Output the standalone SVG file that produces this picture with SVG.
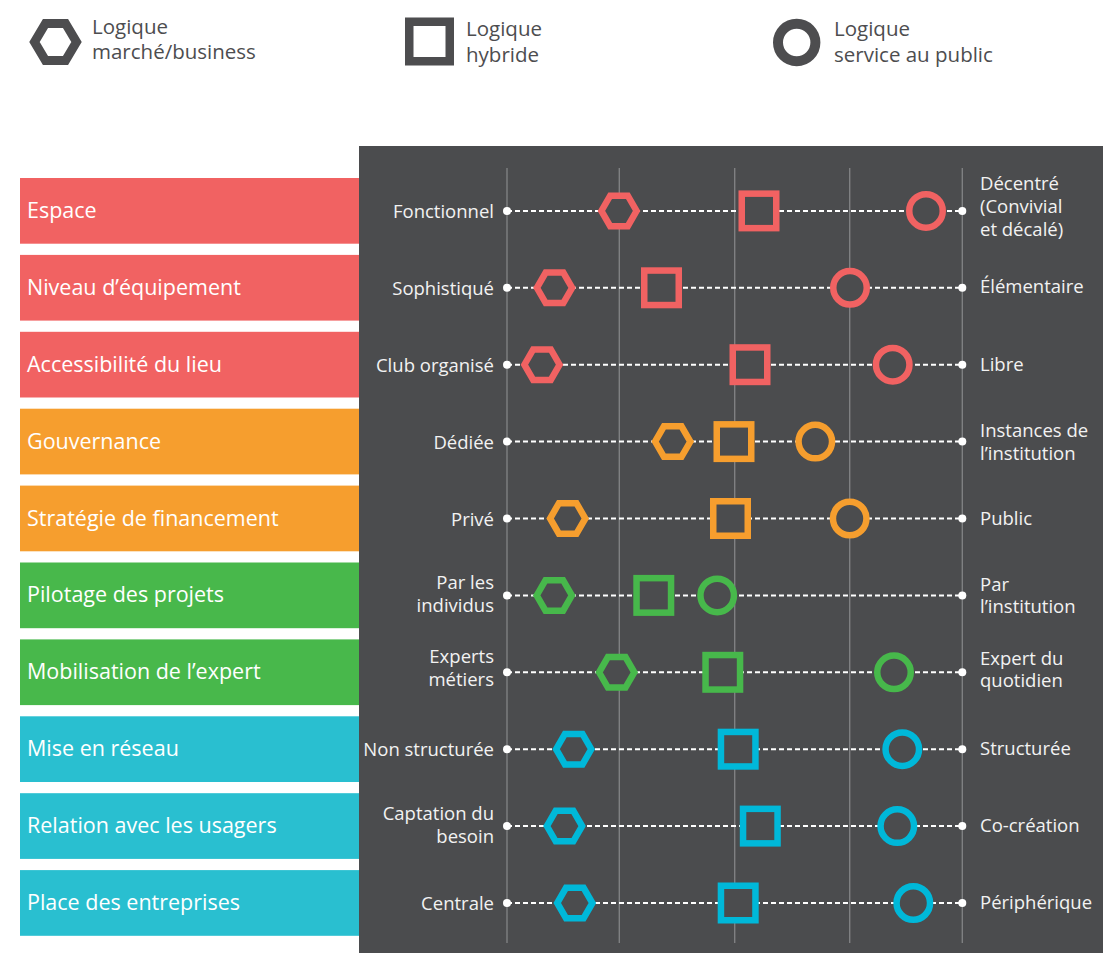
<svg xmlns="http://www.w3.org/2000/svg" xmlns:xlink="http://www.w3.org/1999/xlink" width="1103" height="953" viewBox="0 0 1103 953">
<style>
  text { font-family: "Open Sans", "Noto Sans", "Liberation Sans", sans-serif; }
  .leg { fill: #4d4d4f; font-size: 20.5px; }
  .box { font-size: 21.5px; fill: #ffffff; }
  .lab { font-size: 18.5px; fill: #f2f2f2; }
  .end { text-anchor: end; }
  .axis { stroke: #7f8082; stroke-width: 1.4; }
  .dash { stroke: #ffffff; stroke-width: 2; stroke-dasharray: 5 3; fill: none; }
  .dot { fill: #ffffff; }
  .sh { fill: #4b4c4e; stroke-width: 6.5; stroke-linejoin: miter; }
  .red { stroke: #f16262; }
  .org { stroke: #f69e2e; }
  .grn { stroke: #47b84b; }
  .cyn { stroke: #00b8d9; }
  .bred { fill: #f16262; }
  .borg { fill: #f69e2e; }
  .bgrn { fill: #48b84b; }
  .bcyn { fill: #29bfd0; }
</style>
<defs>
  <path id="hex" d="M17.6,0 L8.8,15.24 L-8.8,15.24 L-17.6,0 L-8.8,-15.24 L8.8,-15.24 Z"/>
  <rect id="sq" x="-17.25" y="-17.25" width="34.5" height="34.5"/>
  <circle id="ci" cx="0" cy="0" r="16.75"/>
</defs>
<rect x="0" y="0" width="1103" height="953" fill="#ffffff"/>

<g id="legend">
  <g id="legend-market">
    <path d="M76.5,42 L65.5,60.5 L45.5,60.5 L34.5,42 L45.5,23.5 L65.5,23.5 Z" fill="none" stroke="#4d4d4f" stroke-width="9" stroke-linejoin="miter"/>
    <text class="leg"><tspan x="92" y="34">Logique</tspan><tspan x="92" y="59">marché/business</tspan></text>
  </g>
  <g id="legend-hybrid">
    <rect x="409.25" y="21.75" width="40.5" height="39.5" fill="none" stroke="#4d4d4f" stroke-width="8.5"/>
    <text class="leg"><tspan x="466" y="36">Logique</tspan><tspan x="466" y="61.5">hybride</tspan></text>
  </g>
  <g id="legend-public">
    <circle cx="796.7" cy="42.5" r="18.7" fill="none" stroke="#4d4d4f" stroke-width="10"/>
    <text class="leg"><tspan x="834" y="36">Logique</tspan><tspan x="834" y="61.5">service au public</tspan></text>
  </g>
</g>

<rect id="panel" x="359" y="146" width="744" height="807" fill="#4b4c4e"/>

<g id="axes">
  <line class="axis" x1="507" y1="168" x2="507" y2="943"/>
  <line class="axis" x1="619.3" y1="168" x2="619.3" y2="943"/>
  <line class="axis" x1="734.7" y1="168" x2="734.7" y2="943"/>
  <line class="axis" x1="849.7" y1="168" x2="849.7" y2="943"/>
  <line class="axis" x1="962.3" y1="168" x2="962.3" y2="943"/>
</g>

<g id="connectors">
  <line class="dash" x1="507" y1="210.9" x2="962.3" y2="210.9"/>
  <line class="dash" x1="507" y1="287.8" x2="962.3" y2="287.8"/>
  <line class="dash" x1="507" y1="364.7" x2="962.3" y2="364.7"/>
  <line class="dash" x1="507" y1="441.6" x2="962.3" y2="441.6"/>
  <line class="dash" x1="507" y1="518.5" x2="962.3" y2="518.5"/>
  <line class="dash" x1="507" y1="595.4" x2="962.3" y2="595.4"/>
  <line class="dash" x1="507" y1="672.3" x2="962.3" y2="672.3"/>
  <line class="dash" x1="507" y1="749.2" x2="962.3" y2="749.2"/>
  <line class="dash" x1="507" y1="826.1" x2="962.3" y2="826.1"/>
  <line class="dash" x1="507" y1="903" x2="962.3" y2="903"/>
</g>

<g id="row-espace">
  <rect class="bred" x="20" y="178" width="339" height="65.7"/>
  <text class="box" x="27" y="218">Espace</text>
  <circle class="dot" cx="507" cy="210.9" r="4"/><circle class="dot" cx="962.3" cy="210.9" r="4"/>
  <text class="lab end" x="494" y="218">Fonctionnel</text>
  <text class="lab"><tspan x="980" y="189.5">Décentré</tspan><tspan x="980" y="212.5">(Convivial</tspan><tspan x="980" y="235.5">et décalé)</tspan></text>
  <use href="#hex" class="sh red" transform="translate(619,210.9)"/>
  <use href="#sq" class="sh red" transform="translate(759,210.9)"/>
  <use href="#ci" class="sh red" transform="translate(926,210.9)"/>
</g>

<g id="row-equipement">
  <rect class="bred" x="20" y="254.9" width="339" height="65.7"/>
  <text class="box" x="27" y="294.8">Niveau d’équipement</text>
  <circle class="dot" cx="507" cy="287.8" r="4"/><circle class="dot" cx="962.3" cy="287.8" r="4"/>
  <text class="lab end" x="494" y="294.8">Sophistiqué</text>
  <text class="lab" x="980" y="293">Élémentaire</text>
  <use href="#hex" class="sh red" transform="translate(554.5,287.8)"/>
  <use href="#sq" class="sh red" transform="translate(661.5,287.8)"/>
  <use href="#ci" class="sh red" transform="translate(850,287.8)"/>
</g>

<g id="row-accessibilite">
  <rect class="bred" x="20" y="331.8" width="339" height="65.7"/>
  <text class="box" x="27" y="371.7">Accessibilité du lieu</text>
  <circle class="dot" cx="507" cy="364.7" r="4"/><circle class="dot" cx="962.3" cy="364.7" r="4"/>
  <text class="lab end" x="494" y="371.7">Club organisé</text>
  <text class="lab" x="980" y="370.5">Libre</text>
  <use href="#hex" class="sh red" transform="translate(542,364.7)"/>
  <use href="#sq" class="sh red" transform="translate(750,364.7)"/>
  <use href="#ci" class="sh red" transform="translate(892.7,364.7)"/>
</g>

<g id="row-gouvernance">
  <rect class="borg" x="20" y="408.7" width="339" height="65.7"/>
  <text class="box" x="27" y="448.6">Gouvernance</text>
  <circle class="dot" cx="507" cy="441.6" r="4"/><circle class="dot" cx="962.3" cy="441.6" r="4"/>
  <text class="lab end" x="494" y="448.6">Dédiée</text>
  <text class="lab"><tspan x="980" y="437.3">Instances de</tspan><tspan x="980" y="460">l’institution</tspan></text>
  <use href="#hex" class="sh org" transform="translate(672.7,441.6)"/>
  <use href="#sq" class="sh org" transform="translate(734,441.6)"/>
  <use href="#ci" class="sh org" transform="translate(815.3,441.6)"/>
</g>

<g id="row-financement">
  <rect class="borg" x="20" y="485.6" width="339" height="65.7"/>
  <text class="box" x="27" y="525.5">Stratégie de financement</text>
  <circle class="dot" cx="507" cy="518.5" r="4"/><circle class="dot" cx="962.3" cy="518.5" r="4"/>
  <text class="lab end" x="494" y="525.5">Privé</text>
  <text class="lab" x="980" y="525">Public</text>
  <use href="#hex" class="sh org" transform="translate(567.7,518.5)"/>
  <use href="#sq" class="sh org" transform="translate(730.5,518.5)"/>
  <use href="#ci" class="sh org" transform="translate(849.7,518.5)"/>
</g>

<g id="row-pilotage">
  <rect class="bgrn" x="20" y="562.5" width="339" height="65.7"/>
  <text class="box" x="27" y="602.4">Pilotage des projets</text>
  <circle class="dot" cx="507" cy="595.4" r="4"/><circle class="dot" cx="962.3" cy="595.4" r="4"/>
  <text class="lab end"><tspan x="494" y="589">Par les</tspan><tspan x="494" y="611.7">individus</tspan></text>
  <text class="lab"><tspan x="980" y="591">Par</tspan><tspan x="980" y="613.3">l’institution</tspan></text>
  <use href="#hex" class="sh grn" transform="translate(554.3,595.4)"/>
  <use href="#sq" class="sh grn" transform="translate(653.8,595.4)"/>
  <use href="#ci" class="sh grn" transform="translate(717.2,595.4)"/>
</g>

<g id="row-mobilisation">
  <rect class="bgrn" x="20" y="639.4" width="339" height="65.7"/>
  <text class="box" x="27" y="679.3">Mobilisation de l’expert</text>
  <circle class="dot" cx="507" cy="672.3" r="4"/><circle class="dot" cx="962.3" cy="672.3" r="4"/>
  <text class="lab end"><tspan x="494" y="663.3">Experts</tspan><tspan x="494" y="685.7">métiers</tspan></text>
  <text class="lab"><tspan x="980" y="665">Expert du</tspan><tspan x="980" y="686.5">quotidien</tspan></text>
  <use href="#hex" class="sh grn" transform="translate(616.7,672.3)"/>
  <use href="#sq" class="sh grn" transform="translate(722.8,672.3)"/>
  <use href="#ci" class="sh grn" transform="translate(894,672.3)"/>
</g>

<g id="row-reseau">
  <rect class="bcyn" x="20" y="716.3" width="339" height="65.7"/>
  <text class="box" x="27" y="756.2">Mise en réseau</text>
  <circle class="dot" cx="507" cy="749.2" r="4"/><circle class="dot" cx="962.3" cy="749.2" r="4"/>
  <text class="lab end" x="494" y="756">Non structurée</text>
  <text class="lab" x="980" y="754.5">Structurée</text>
  <use href="#hex" class="sh cyn" transform="translate(573.7,749.2)"/>
  <use href="#sq" class="sh cyn" transform="translate(738.2,749.2)"/>
  <use href="#ci" class="sh cyn" transform="translate(902.3,749.2)"/>
</g>

<g id="row-usagers">
  <rect class="bcyn" x="20" y="793.2" width="339" height="65.7"/>
  <text class="box" x="27" y="833.1">Relation avec les usagers</text>
  <circle class="dot" cx="507" cy="826.1" r="4"/><circle class="dot" cx="962.3" cy="826.1" r="4"/>
  <text class="lab end"><tspan x="494" y="820">Captation du</tspan><tspan x="494" y="842.7">besoin</tspan></text>
  <text class="lab" x="980" y="832">Co-création</text>
  <use href="#hex" class="sh cyn" transform="translate(564.5,826.1)"/>
  <use href="#sq" class="sh cyn" transform="translate(760.3,826.1)"/>
  <use href="#ci" class="sh cyn" transform="translate(897.3,826.1)"/>
</g>

<g id="row-entreprises">
  <rect class="bcyn" x="20" y="870.1" width="339" height="65.7"/>
  <text class="box" x="27" y="910">Place des entreprises</text>
  <circle class="dot" cx="507" cy="903" r="4"/><circle class="dot" cx="962.3" cy="903" r="4"/>
  <text class="lab end" x="494" y="909.5">Centrale</text>
  <text class="lab" x="980" y="909">Périphérique</text>
  <use href="#hex" class="sh cyn" transform="translate(574.8,903)"/>
  <use href="#sq" class="sh cyn" transform="translate(738.2,903)"/>
  <use href="#ci" class="sh cyn" transform="translate(913.3,903)"/>
</g>
</svg>
